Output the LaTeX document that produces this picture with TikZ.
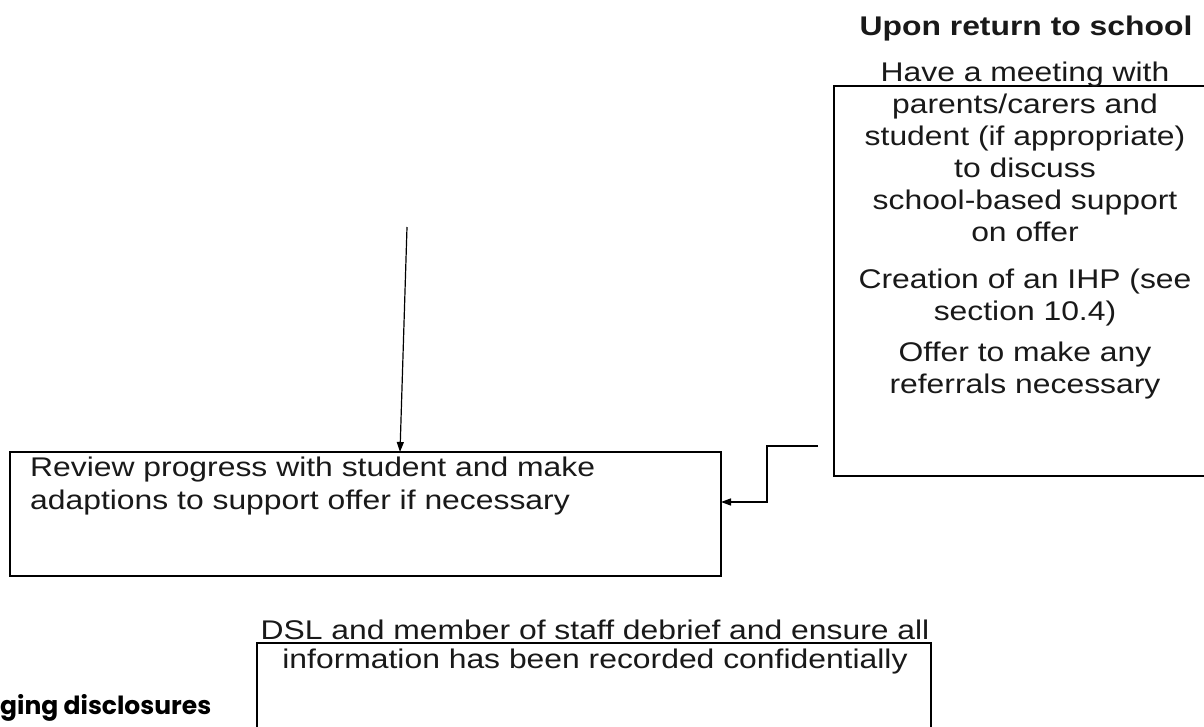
\documentclass[tikz,border=0pt]{standalone}
\usepackage{fontspec}
\usetikzlibrary{arrows.meta}
\newfontfamily\mainfont[FakeStretch=1.18]{Liberation Sans}
\newfontfamily\gothfont{Poppins}
\begin{document}
\begin{tikzpicture}[x=1pt,y=-1pt,
  boxline/.style={draw=black, line width=1.8pt, inner sep=0pt, outer sep=0pt},
  conn/.style={draw=black, line width=1.4pt},
  tip/.style={-{Triangle[length=10pt,width=7pt]}},
  txt/.style={font=\mainfont\fontsize{27}{30}\selectfont, inner sep=0pt, anchor=base, text=black!90},
  ltxt/.style={txt, anchor=base west}]
\useasboundingbox (0,0) rectangle (1204,726);
\clip (0,0) rectangle (1204,726);
\fill[white] (0,0) rectangle (1204,726);

% upper right box (continues past the right edge)
\node[boxline, anchor=north west, minimum width=420pt, minimum height=390pt] (ubox) at (834,86) {};
\node[txt, font=\mainfont\bfseries\fontsize{27}{30}\selectfont] (title) at (1026,35) {Upon return to school};
\foreach \t/\yy [count=\i] in {{Have a meeting with}/81, {parents/carers and}/113, {student (if appropriate)}/145, {to discuss}/177, {school-based support}/209, {on offer}/241, {Creation of an IHP (see}/288, {section 10.4)}/320, {Offer to make any}/361, {referrals necessary}/393}
  \node[txt] (ub\i) at (1025,\yy) {\t};

% review box
\node[boxline, anchor=north west, minimum width=711pt, minimum height=124pt] (review) at (10,452) {};
\node[ltxt] (rv1) at (30,476) {Review progress with student and make};
\node[ltxt] (rv2) at (30,509) {adaptions to support offer if necessary};

% DSL box (continues past the bottom edge)
\node[boxline, anchor=north west, minimum width=674pt, minimum height=120pt] (dsl) at (257,643) {};
\node[txt] (dsl1) at (595,639) {DSL and member of staff debrief and ensure all};
\node[txt] (dsl2) at (595,668) {information has been recorded confidentially};

% cut-off heading
\node[font=\gothfont\bfseries\fontsize{25}{28}\selectfont, anchor=base west, inner sep=0pt] (ging) at (0,714) {ging disclosures};

% connectors
\coordinate (vtop) at (407,227);
\coordinate (vx) at (400,0);
\draw[conn, line width=1.2pt, tip] (vtop) -- (review.north -| vx);

\coordinate (c0) at (818,446);
\coordinate (cx) at (767,0);
\coordinate (ry) at (0,502);
\draw[conn, tip] (c0) -- (c0 -| cx) -- (ry -| cx) -- (review.east |- ry);
\end{tikzpicture}
\end{document}
